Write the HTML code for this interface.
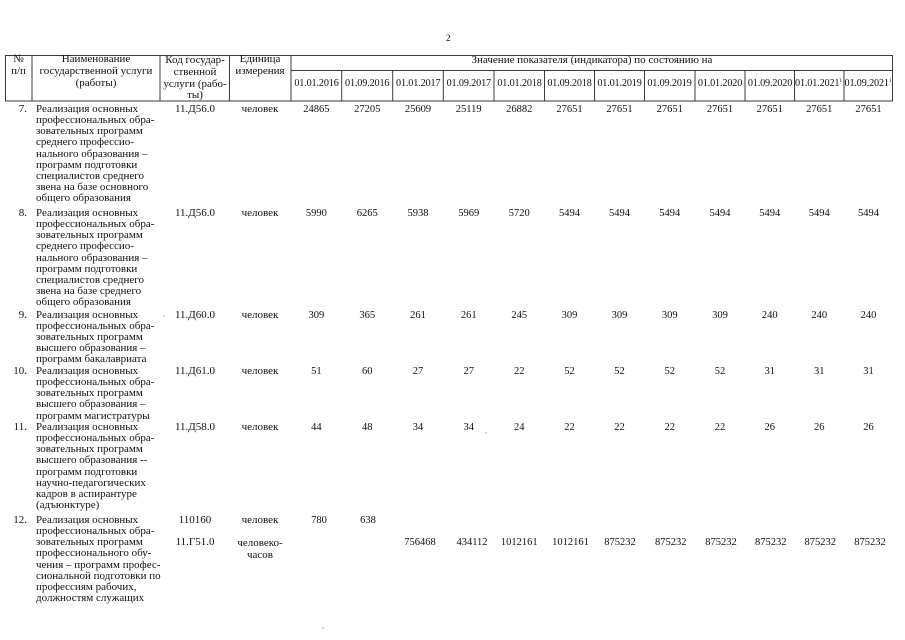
<!DOCTYPE html>
<html><head><meta charset="utf-8">
<style>
html,body{margin:0;padding:0;background:#fff;}
body{width:905px;height:640px;position:relative;overflow:hidden;font-family:"Liberation Serif","DejaVu Serif",serif;color:#111;}
.a{position:absolute;white-space:nowrap;}
.t{font-size:11px;line-height:11.15px;}
.h{font-size:11px;line-height:11.8px;text-align:center;}
.v{font-size:10.5px;line-height:11px;width:64px;text-align:center;}
.n{font-size:11px;line-height:11px;width:30px;text-align:right;left:-3px;}
.c{font-size:11px;line-height:11px;width:72px;text-align:center;}
.d{font-size:10.2px;line-height:11px;width:51px;text-align:center;letter-spacing:-0.15px;}
sup{font-size:5.5px;vertical-align:top;line-height:6px;}
</style></head><body>
<svg width="905" height="640" style="position:absolute;left:0;top:0" xmlns="http://www.w3.org/2000/svg">
<g stroke="#3a3a3a" stroke-width="1" fill="none">
<line x1="5" y1="55.5" x2="893" y2="55.5"/>
<line x1="291" y1="70.5" x2="893" y2="70.5"/>
<line x1="5" y1="101" x2="893" y2="101"/>
<line x1="5.5" y1="55" x2="5.5" y2="101"/>
<line x1="32" y1="55" x2="32" y2="101"/>
<line x1="160" y1="55" x2="160" y2="101"/>
<line x1="229.5" y1="55" x2="229.5" y2="101"/>
<line x1="291" y1="55" x2="291" y2="101"/>
<line x1="892.5" y1="55" x2="892.5" y2="101"/>
<line x1="341.7" y1="70.5" x2="341.7" y2="101"/>
<line x1="392.7" y1="70.5" x2="392.7" y2="101"/>
<line x1="443.3" y1="70.5" x2="443.3" y2="101"/>
<line x1="494" y1="70.5" x2="494" y2="101"/>
<line x1="544.5" y1="70.5" x2="544.5" y2="101"/>
<line x1="594.5" y1="70.5" x2="594.5" y2="101"/>
<line x1="644.5" y1="70.5" x2="644.5" y2="101"/>
<line x1="695" y1="70.5" x2="695" y2="101"/>
<line x1="745" y1="70.5" x2="745" y2="101"/>
<line x1="794.5" y1="70.5" x2="794.5" y2="101"/>
<line x1="844" y1="70.5" x2="844" y2="101"/>
</g>
<circle cx="323" cy="628" r="0.6" fill="#777"/>
<circle cx="164" cy="316" r="0.6" fill="#777"/>
<circle cx="486" cy="433" r="0.6" fill="#777"/>
</svg>

<div class="a" style="left:446px;top:33px;font-size:9px;line-height:10px;">2</div>

<!-- header -->
<div class="a h" style="left:5px;top:54px;width:27px;">№<br>п/п</div>
<div class="a h" style="left:32px;top:54px;width:128px;">Наименование<br>государственной услуги<br>(работы)</div>
<div class="a h" style="left:160px;top:55px;width:70px;">Код государ-<br>ственной<br>услуги (рабо-<br>ты)</div>
<div class="a h" style="left:229px;top:54px;width:62px;">Единица<br>измерения</div>
<div class="a h" style="left:291px;top:55px;width:602px;">Значение показателя (индикатора) по состоянию на</div>

<div class="a d" style="left:291px;top:78px;">01.01.2016</div>
<div class="a d" style="left:341.7px;top:78px;">01.09.2016</div>
<div class="a d" style="left:392.7px;top:78px;">01.01.2017</div>
<div class="a d" style="left:443.3px;top:78px;">01.09.2017</div>
<div class="a d" style="left:494px;top:78px;">01.01.2018</div>
<div class="a d" style="left:544px;top:78px;">01.09.2018</div>
<div class="a d" style="left:594px;top:78px;">01.01.2019</div>
<div class="a d" style="left:644px;top:78px;">01.09.2019</div>
<div class="a d" style="left:694.5px;top:78px;">01.01.2020</div>
<div class="a d" style="left:744.5px;top:78px;">01.09.2020</div>
<div class="a d" style="left:793px;top:78px;">01.01.2021<sup>1</sup></div>
<div class="a d" style="left:842.5px;top:78px;">01.09.2021<sup>1</sup></div>

<!-- row 7 -->
<div class="a n" style="top:104px;">7.</div>
<div class="a t" style="left:36px;top:104px;">Реализация основных<br>профессиональных обра-<br>зовательных программ<br>среднего профессио-<br>нального образования –<br>программ подготовки<br>специалистов среднего<br>звена на базе основного<br>общего образования</div>
<div class="a c" style="left:159px;top:104px;">11.Д56.0</div>
<div class="a c" style="left:224px;top:104px;">человек</div>
<div class="a v" style="left:284.4px;top:104px;">24865</div>
<div class="a v" style="left:335.2px;top:104px;">27205</div>
<div class="a v" style="left:386px;top:104px;">25609</div>
<div class="a v" style="left:436.7px;top:104px;">25119</div>
<div class="a v" style="left:487.3px;top:104px;">26882</div>
<div class="a v" style="left:537.5px;top:104px;">27651</div>
<div class="a v" style="left:587.5px;top:104px;">27651</div>
<div class="a v" style="left:637.8px;top:104px;">27651</div>
<div class="a v" style="left:688px;top:104px;">27651</div>
<div class="a v" style="left:737.8px;top:104px;">27651</div>
<div class="a v" style="left:787.3px;top:104px;">27651</div>
<div class="a v" style="left:836.5px;top:104px;">27651</div>

<!-- row 8 -->
<div class="a n" style="top:208px;">8.</div>
<div class="a t" style="left:36px;top:208px;">Реализация основных<br>профессиональных обра-<br>зовательных программ<br>среднего профессио-<br>нального образования –<br>программ подготовки<br>специалистов среднего<br>звена на базе среднего<br>общего образования</div>
<div class="a c" style="left:159px;top:208px;">11.Д56.0</div>
<div class="a c" style="left:224px;top:208px;">человек</div>
<div class="a v" style="left:284.4px;top:208px;">5990</div>
<div class="a v" style="left:335.2px;top:208px;">6265</div>
<div class="a v" style="left:386px;top:208px;">5938</div>
<div class="a v" style="left:436.7px;top:208px;">5969</div>
<div class="a v" style="left:487.3px;top:208px;">5720</div>
<div class="a v" style="left:537.5px;top:208px;">5494</div>
<div class="a v" style="left:587.5px;top:208px;">5494</div>
<div class="a v" style="left:637.8px;top:208px;">5494</div>
<div class="a v" style="left:688px;top:208px;">5494</div>
<div class="a v" style="left:737.8px;top:208px;">5494</div>
<div class="a v" style="left:787.3px;top:208px;">5494</div>
<div class="a v" style="left:836.5px;top:208px;">5494</div>

<!-- row 9 -->
<div class="a n" style="top:309.5px;">9.</div>
<div class="a t" style="left:36px;top:309.5px;">Реализация основных<br>профессиональных обра-<br>зовательных программ<br>высшего образования –<br>программ бакалавриата</div>
<div class="a c" style="left:159px;top:309.5px;">11.Д60.0</div>
<div class="a c" style="left:224px;top:309.5px;">человек</div>
<div class="a v" style="left:284.4px;top:309.5px;">309</div>
<div class="a v" style="left:335.2px;top:309.5px;">365</div>
<div class="a v" style="left:386px;top:309.5px;">261</div>
<div class="a v" style="left:436.7px;top:309.5px;">261</div>
<div class="a v" style="left:487.3px;top:309.5px;">245</div>
<div class="a v" style="left:537.5px;top:309.5px;">309</div>
<div class="a v" style="left:587.5px;top:309.5px;">309</div>
<div class="a v" style="left:637.8px;top:309.5px;">309</div>
<div class="a v" style="left:688px;top:309.5px;">309</div>
<div class="a v" style="left:737.8px;top:309.5px;">240</div>
<div class="a v" style="left:787.3px;top:309.5px;">240</div>
<div class="a v" style="left:836.5px;top:309.5px;">240</div>

<!-- row 10 -->
<div class="a n" style="top:366px;">10.</div>
<div class="a t" style="left:36px;top:366px;">Реализация основных<br>профессиональных обра-<br>зовательных программ<br>высшего образования –<br>программ магистратуры</div>
<div class="a c" style="left:159px;top:366px;">11.Д61.0</div>
<div class="a c" style="left:224px;top:366px;">человек</div>
<div class="a v" style="left:284.4px;top:366px;">51</div>
<div class="a v" style="left:335.2px;top:366px;">60</div>
<div class="a v" style="left:386px;top:366px;">27</div>
<div class="a v" style="left:436.7px;top:366px;">27</div>
<div class="a v" style="left:487.3px;top:366px;">22</div>
<div class="a v" style="left:537.5px;top:366px;">52</div>
<div class="a v" style="left:587.5px;top:366px;">52</div>
<div class="a v" style="left:637.8px;top:366px;">52</div>
<div class="a v" style="left:688px;top:366px;">52</div>
<div class="a v" style="left:737.8px;top:366px;">31</div>
<div class="a v" style="left:787.3px;top:366px;">31</div>
<div class="a v" style="left:836.5px;top:366px;">31</div>

<!-- row 11 -->
<div class="a n" style="top:422px;">11.</div>
<div class="a t" style="left:36px;top:422px;">Реализация основных<br>профессиональных обра-<br>зовательных программ<br>высшего образования --<br>программ подготовки<br>научно-педагогических<br>кадров в аспирантуре<br>(адъюнктуре)</div>
<div class="a c" style="left:159px;top:422px;">11.Д58.0</div>
<div class="a c" style="left:224px;top:422px;">человек</div>
<div class="a v" style="left:284.4px;top:422px;">44</div>
<div class="a v" style="left:335.2px;top:422px;">48</div>
<div class="a v" style="left:386px;top:422px;">34</div>
<div class="a v" style="left:436.7px;top:422px;">34</div>
<div class="a v" style="left:487.3px;top:422px;">24</div>
<div class="a v" style="left:537.5px;top:422px;">22</div>
<div class="a v" style="left:587.5px;top:422px;">22</div>
<div class="a v" style="left:637.8px;top:422px;">22</div>
<div class="a v" style="left:688px;top:422px;">22</div>
<div class="a v" style="left:737.8px;top:422px;">26</div>
<div class="a v" style="left:787.3px;top:422px;">26</div>
<div class="a v" style="left:836.5px;top:422px;">26</div>

<!-- row 12 -->
<div class="a n" style="top:515px;">12.</div>
<div class="a t" style="left:36px;top:515px;">Реализация основных<br>профессиональных обра-<br>зовательных программ<br>профессионального обу-<br>чения – программ профес-<br>сиональной подготовки по<br>профессиям рабочих,<br>должностям служащих</div>
<div class="a c" style="left:159px;top:515px;">110160</div>
<div class="a c" style="left:224px;top:515px;">человек</div>
<div class="a c" style="left:159px;top:537px;">11.Г51.0</div>
<div class="a c" style="left:224px;top:537px;line-height:12px;">человеко-<br>часов</div>
<div class="a v" style="left:287px;top:515px;">780</div>
<div class="a v" style="left:336px;top:515px;">638</div>
<div class="a v" style="left:388px;top:537px;">756468</div>
<div class="a v" style="left:440px;top:537px;">434112</div>
<div class="a v" style="left:487.3px;top:537px;">1012161</div>
<div class="a v" style="left:538.5px;top:537px;">1012161</div>
<div class="a v" style="left:588px;top:537px;">875232</div>
<div class="a v" style="left:638.8px;top:537px;">875232</div>
<div class="a v" style="left:689px;top:537px;">875232</div>
<div class="a v" style="left:738.8px;top:537px;">875232</div>
<div class="a v" style="left:788.3px;top:537px;">875232</div>
<div class="a v" style="left:838px;top:537px;">875232</div>
</body></html>
